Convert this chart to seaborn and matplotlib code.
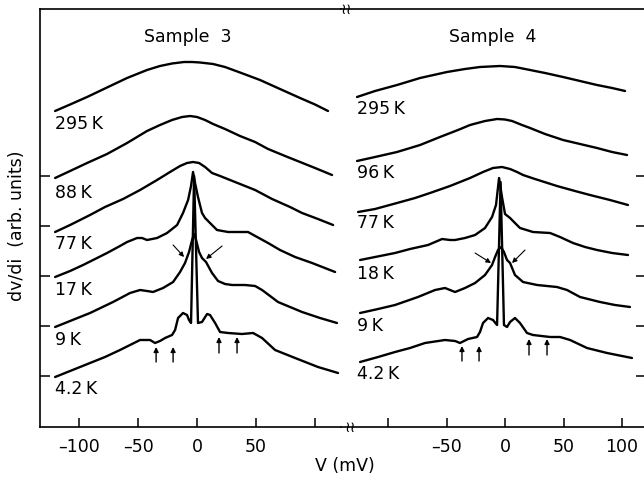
import numpy as np
import pandas as pd
import matplotlib
matplotlib.use("Agg")
import matplotlib.pyplot as plt
import seaborn as sns

# ---------------- data: Sample 3 (left panel) ----------------
s3_295_v = [-120.3,-107.6,-93.2,-76.3,-59.3,-42.4,-31.4,-21.2,-11.0,-4.2,2.5,13.6,23.7,36.4,53.4,70.3,87.3,100.0,111.0]
s3_295_y = [5.30,5.43,5.58,5.77,5.96,6.12,6.20,6.25,6.28,6.28,6.27,6.24,6.18,6.07,5.92,5.74,5.56,5.43,5.30]

s3_88_v = [-120.3,-107.6,-93.2,-76.3,-59.3,-42.4,-31.4,-21.2,-12.7,-5.9,0,6.8,13.6,23.7,36.4,49.2,60.2,74.6,87.3,100.0,114.4]
s3_88_y = [3.96,4.10,4.26,4.44,4.66,4.90,5.02,5.12,5.18,5.20,5.18,5.12,5.04,4.94,4.80,4.68,4.54,4.40,4.28,4.16,4.02]

s3_77_v = [-120.3,-107.6,-90.7,-78.0,-62.7,-48.3,-33.9,-22.9,-14.4,-8.5,-3.4,1.7,6.8,12.7,19.5,32.2,49.2,63.6,78.8,89.0,102.5,115.3]
s3_77_y = [2.88,3.02,3.22,3.38,3.54,3.72,3.92,4.08,4.20,4.26,4.28,4.26,4.18,4.06,4.00,3.88,3.72,3.54,3.38,3.26,3.14,3.02]

s3_17_v = [-120.3,-107.6,-96.6,-86.4,-76.3,-65.3,-59.3,-50.8,-46.6,-42.4,-38.1,-33.9,-25.4,-16.9,-11.9,-7.6,-5.1,-3.4,-1.7,0.8,4.2,6.8,11.0,16.9,26.3,36.4,43.2,50.9,60.2,70.3,83.1,97.5,117.0]
s3_17_y = [1.98,2.10,2.22,2.34,2.46,2.60,2.68,2.76,2.76,2.72,2.74,2.76,2.86,3.02,3.26,3.52,3.80,4.08,3.86,3.58,3.26,3.16,3.06,2.92,2.88,2.88,2.88,2.78,2.66,2.52,2.38,2.26,2.08]

s3_9_v = [-120.3,-107.6,-90.7,-71.2,-56.8,-48.3,-42.4,-37.3,-28.8,-20.3,-14.4,-10.2,-6.8,-4.2,-2.5,-0.8,1.7,4.2,7.6,12.7,17.8,23.7,29.7,40.7,49.2,55.1,61.9,68.6,78.8,89.0,104.2,118.6]
s3_9_y = [0.98,1.10,1.26,1.48,1.66,1.72,1.70,1.68,1.76,1.88,2.08,2.26,2.48,2.72,2.84,2.72,2.48,2.36,2.28,2.06,1.90,1.84,1.82,1.82,1.80,1.72,1.60,1.48,1.38,1.28,1.16,1.06]

s3_4_v = [-120.3,-107.6,-90.7,-78.0,-65.3,-48.3,-39.8,-35.6,-31.4,-27.1,-21.2,-18.6,-16.1,-11.9,-8.5,-6.8,-5.1,-2.5,0.8,4.2,8.5,11.0,15.3,19.5,26.3,38.1,47.5,55.1,66.1,83.1,102.5,119.5]
s3_4_y = [-0.02,0.10,0.26,0.38,0.52,0.72,0.72,0.66,0.70,0.76,0.82,0.92,1.16,1.26,1.22,1.12,1.06,4.00,1.06,1.08,1.24,1.22,1.06,0.88,0.86,0.84,0.86,0.76,0.52,0.36,0.18,0.06]

# ---------------- data: Sample 4 (right panel) ----------------
s4_295_v = [-126.5,-111.1,-92.3,-72.6,-49.6,-34.2,-21.4,-4.3,8.5,21.4,34.2,49.6,64.1,78.6,91.5,102.6]
s4_295_y = [5.58,5.70,5.82,5.96,6.08,6.14,6.18,6.20,6.18,6.12,6.06,5.98,5.90,5.82,5.76,5.70]

s4_96_v = [-126.5,-111.1,-92.3,-72.6,-55.6,-40.2,-29.9,-17.1,-6.8,0,6.0,14.5,21.4,34.2,49.6,64.1,78.6,91.5,104.3]
s4_96_y = [4.30,4.38,4.48,4.62,4.78,4.92,5.02,5.10,5.14,5.13,5.10,5.02,4.96,4.84,4.72,4.64,4.56,4.48,4.42]

s4_77_v = [-125.6,-111.1,-92.3,-76.9,-64.1,-47.0,-29.9,-18.8,-10.3,-2.6,4.3,10.3,15.4,25.6,44.4,59.8,72.6,89.7,105.1]
s4_77_y = [3.28,3.34,3.46,3.56,3.66,3.80,3.96,4.08,4.16,4.18,4.14,4.08,4.02,3.94,3.80,3.70,3.62,3.52,3.42]

s4_18_v = [-123.9,-106.8,-94.0,-81.2,-65.8,-53.8,-47.0,-42.7,-34.2,-25.6,-17.1,-11.1,-7.7,-5.1,-2.6,0,4.3,8.5,12.8,23.9,38.5,47.0,58.1,68.4,78.6,91.5,105.1]
s4_18_y = [2.32,2.40,2.46,2.54,2.62,2.74,2.72,2.72,2.76,2.82,2.96,3.18,3.42,3.96,3.58,3.24,3.16,3.06,2.96,2.88,2.86,2.78,2.66,2.58,2.52,2.46,2.42]

s4_9_v = [-123.9,-108.5,-94.0,-74.4,-59.8,-51.3,-47.0,-42.7,-34.2,-25.6,-17.1,-11.1,-8.5,-6.0,-3.4,-0.9,1.7,4.3,8.5,15.4,27.4,44.4,53.0,64.1,81.2,94.0,106.8]
s4_9_y = [1.26,1.34,1.42,1.58,1.72,1.76,1.72,1.68,1.76,1.86,2.02,2.22,2.38,2.52,2.58,2.48,2.32,2.26,2.02,1.88,1.82,1.78,1.72,1.58,1.48,1.42,1.38]

s4_4_v = [-123.9,-108.5,-94.0,-81.2,-68.4,-51.3,-42.7,-38.5,-31.6,-23.9,-21.4,-18.8,-14.5,-10.3,-6.8,-3.8,-0.9,1.7,4.3,8.5,12.8,18.8,23.9,38.5,47.0,55.6,70.1,87.2,108.5]
s4_4_y = [0.28,0.38,0.48,0.56,0.66,0.72,0.70,0.66,0.74,0.78,0.88,1.06,1.16,1.12,1.02,3.88,1.02,0.98,1.08,1.16,1.06,0.86,0.82,0.78,0.78,0.72,0.56,0.46,0.36]

temps3 = ["295 K", "88 K", "77 K", "17 K", "9 K", "4.2 K"]
temps4 = ["295 K", "96 K", "77 K", "18 K", "9 K", "4.2 K"]
s3_curves = [(s3_295_v, s3_295_y), (s3_88_v, s3_88_y), (s3_77_v, s3_77_y),
             (s3_17_v, s3_17_y), (s3_9_v, s3_9_y), (s3_4_v, s3_4_y)]
s4_curves = [(s4_295_v, s4_295_y), (s4_96_v, s4_96_y), (s4_77_v, s4_77_y),
             (s4_18_v, s4_18_y), (s4_9_v, s4_9_y), (s4_4_v, s4_4_y)]

# label anchor positions (V, dv/di)
lab3_v = -120.3
lab3_y = [5.04, 3.66, 2.64, 1.72, 0.72, -0.26]
lab4_v = -126.5
lab4_y = [5.34, 4.06, 3.06, 2.04, 1.00, 0.04]

# arrows (tail -> head) in data units
up3_v = [-34.7, -20.3, 18.6, 33.9]
up3_tail = [0.28, 0.28, 0.46, 0.46]
up3_head = [0.58, 0.58, 0.78, 0.78]
up4_v = [-36.8, -22.2, 20.5, 35.9]
up4_tail = [0.30, 0.30, 0.42, 0.42]
up4_head = [0.60, 0.60, 0.74, 0.74]
diag3 = [((-20.3, 2.62), (-11.0, 2.38)), ((21.2, 2.60), (7.6, 2.34))]
diag4 = [((-25.6, 2.46), (-12.0, 2.26)), ((17.1, 2.52), (6.0, 2.26))]

xticks = [-100, -50, 0, 50, 100]
xlabels3 = ["\u2013100", "\u201350", "0", "50", ""]
xlabels4 = ["", "\u201350", "0", "50", "100"]
yticks = [0, 1, 2, 3, 4]


def to_df(curves, temps):
    frames = []
    for (v, y), t in zip(curves, temps):
        frames.append(pd.DataFrame({"V": v, "dvdi": y, "T": t}))
    return pd.concat(frames, ignore_index=True)


sns.set_theme(style="white")
plt.rcParams["font.family"] = ["DejaVu Sans"]
plt.rcParams["text.color"] = "black"
plt.rcParams["xtick.color"] = "black"
plt.rcParams["ytick.color"] = "black"
plt.rcParams["axes.edgecolor"] = "black"

W, H = 644, 480
fig = plt.figure(figsize=(W / 100, H / 100), dpi=100)
top_px, bot_px = 9, 427
axL = fig.add_axes([40 / W, (H - bot_px) / H, (341 - 40) / W, (bot_px - top_px) / H])
axR = fig.add_axes([341 / W, (H - bot_px) / H, (646 - 341) / W, (bot_px - top_px) / H])

ylim = (-1.02, 7.34)
lw = 1.7
fs = 12.5

for ax, curves, temps, lab_v, lab_y, xlim, xlabels, title, title_v in [
    (axL, s3_curves, temps3, lab3_v, lab3_y, (-133.1, 122.0), xlabels3, "Sample  3", -7.6),
    (axR, s4_curves, temps4, lab4_v, lab4_y, (-140.2, 120.5), xlabels4, "Sample  4", -10.3),
]:
    df = to_df(curves, temps)
    sns.lineplot(data=df, x="V", y="dvdi", units="T", estimator=None, sort=False,
                 color="black", lw=lw, ax=ax, legend=False,
                 solid_joinstyle="round", solid_capstyle="round")
    ax.set_xlim(*xlim)
    ax.set_ylim(*ylim)
    ax.set_xlabel("")
    ax.set_ylabel("")
    ax.set_xticks(xticks)
    ax.set_xticklabels(xlabels, fontsize=fs, color="black")
    ax.set_yticks(yticks)
    ax.set_yticklabels([])
    for t, yy in zip(temps, lab_y):
        ax.text(lab_v, yy, t.replace(" ", "\u2009"), fontsize=fs, ha="left",
                va="center", color="black")
    ax.text(title_v, 6.78, title, fontsize=fs, ha="center", va="center", color="black")
    for s in ax.spines.values():
        s.set_linewidth(1.2)
        s.set_color("black")

axL.spines["right"].set_visible(False)
axR.spines["left"].set_visible(False)
axL.tick_params(axis="x", direction="in", length=6.5, width=1.1, pad=8, colors="black", bottom=True)
axL.tick_params(axis="y", direction="in", length=7, width=1.1, left=True, right=False)
axR.tick_params(axis="x", direction="in", length=6.5, width=1.1, pad=8, colors="black", bottom=True)
axR.tick_params(axis="y", direction="in", length=7, width=1.1, left=False, right=True,
                labelleft=False, labelright=False)

arrow_kw = dict(arrowstyle="-|>", color="black", lw=1.0, mutation_scale=7,
                shrinkA=0, shrinkB=0)
for ax, uv, ut, uh, dg in [(axL, up3_v, up3_tail, up3_head, diag3),
                           (axR, up4_v, up4_tail, up4_head, diag4)]:
    for v, t, h in zip(uv, ut, uh):
        ax.annotate("", xy=(v, h), xytext=(v, t), arrowprops=arrow_kw)
    for tail, head in dg:
        ax.annotate("", xy=head, xytext=tail, arrowprops=dict(arrow_kw, lw=0.8))

# axis break marks and axis titles
fig.text(346 / W, 1 - top_px / H, "\u2240\u2240", fontsize=11, ha="center", va="center",
         color="black")
fig.text(350 / W, 1 - bot_px / H, "\u2240\u2240", fontsize=11, ha="center", va="center",
         color="black")
fig.text(345 / W, 1 - 466 / H, "V (mV)", fontsize=fs, ha="center", va="center", color="black")
fig.text(17 / W, 1 - 226 / H, "dv/di  (arb. units)", fontsize=fs, ha="center",
         va="center", rotation=90, color="black")

fig.savefig("out.png", dpi=100, facecolor="white")
